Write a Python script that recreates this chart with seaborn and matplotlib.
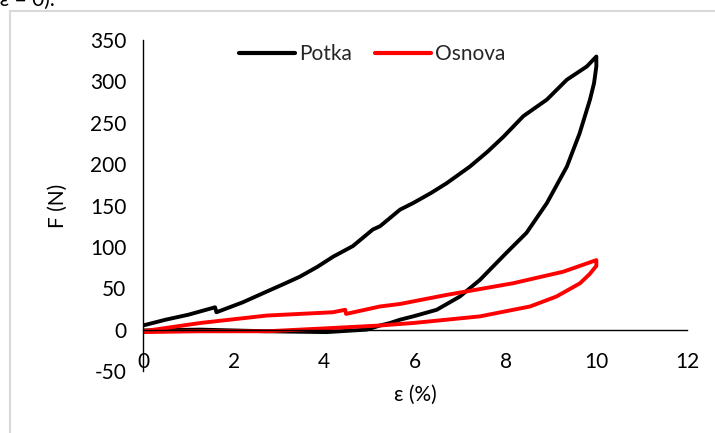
import matplotlib
matplotlib.use("Agg")
import matplotlib.pyplot as plt
from matplotlib.lines import Line2D
import seaborn as sns
import pandas as pd

# Potka (black) hysteresis loop: loading then unloading
potka_x = [0.0, 0.5, 1.0, 1.59, 1.62, 2.2, 2.73, 3.1, 3.46, 3.85, 4.19, 4.63, 5.07, 5.23, 5.67,
           5.96, 6.35, 6.70, 7.21, 7.6, 7.95, 8.39, 8.91, 9.35, 9.79, 10.0,
           10.0, 9.95, 9.86, 9.63, 9.35, 8.91, 8.46, 8.02, 7.43, 6.99, 6.48, 5.96, 5.67, 5.45,
           5.23, 4.93, 4.05, 2.73, 1.26, 0.0]
potka_y = [5, 12, 18, 27, 21, 33, 46, 55, 64, 76, 88, 101, 121, 125, 145,
           153, 165, 177, 197, 215, 233, 258, 278, 302, 318, 330,
           318, 298, 278, 237, 197, 153, 117, 93, 60, 40, 24, 16, 12, 8,
           5, 0, -3, -2, 0, -1]

# Osnova (red) hysteresis loop
osnova_x = [0.0, 1.26, 2.73, 4.19, 4.46, 4.48, 5.23, 5.67, 6.70, 8.16, 9.27, 10.0,
            10.0, 9.85, 9.64, 9.12, 8.54, 7.43, 5.96, 5.23, 4.19, 2.73, 1.26, 0.0]
osnova_y = [-2, 8, 17, 21, 24, 19, 28, 31, 42, 56, 70, 84,
            77, 67, 56, 40, 28, 16, 8, 5, 2, -2, -2, -3]

series_names = ["Potka", "Osnova"]
series_colors = ["#000000", "#ff0000"]
x_ticks = [0, 2, 4, 6, 8, 10, 12]
y_ticks = [-50, 0, 50, 100, 150, 200, 250, 300, 350]

sns.set_theme(style="white")
plt.rcParams["font.family"] = ["Lato", "DejaVu Sans"]
FS = 15

fig = plt.figure(figsize=(7.15, 4.33), dpi=100)
ax = fig.add_axes([143/715, 1-371/433, (687-143)/715, (371-40)/433])

df_p = pd.DataFrame({"x": potka_x, "y": potka_y})
df_o = pd.DataFrame({"x": osnova_x, "y": osnova_y})

sns.lineplot(data=df_p, x="x", y="y", sort=False, estimator=None, color=series_colors[0],
             linewidth=2.8, ax=ax, label=series_names[0])
sns.lineplot(data=df_o, x="x", y="y", sort=False, estimator=None, color=series_colors[1],
             linewidth=2.8, ax=ax, label=series_names[1])

ax.set_xlim(0, 12)
ax.set_ylim(-50, 350)
ax.set_xticks(x_ticks)
ax.set_yticks(y_ticks)
ax.set_xticklabels([str(v) for v in x_ticks])
ax.set_yticklabels([str(v) for v in y_ticks])

for s in ["top", "right"]:
    ax.spines[s].set_visible(False)
ax.spines["bottom"].set_position(("data", 0))
for s in ["left", "bottom"]:
    ax.spines[s].set_color("black")
    ax.spines[s].set_linewidth(1.0)

ax.tick_params(axis="both", which="major", direction="out", length=6, width=1.0,
               color="black", labelsize=FS, labelcolor="black")
ax.tick_params(axis="x", pad=10)
ax.tick_params(axis="y", pad=6)
ax.grid(False)

ax.set_xlabel("ε (%)", fontsize=FS, color="black")
ax.set_ylabel("F (N)", fontsize=FS, color="black")
ax.xaxis.set_label_coords(0.5, (371 - 385) / (371 - 40))
ax.yaxis.set_label_coords((68 - 143) / (687 - 143), 0.5)

leg = ax.legend(loc="upper center", bbox_to_anchor=((372 - 143) / (687 - 143), 1.045), ncol=2,
                frameon=False, fontsize=FS, handlelength=2.7, handletextpad=0.2,
                columnspacing=1.1)
for h in leg.get_lines():
    h.set_linewidth(3)

# chart-area frame (light grey) and cropped caption above
fig.add_artist(Line2D([9.5/715, 1.0], [1-11/433, 1-11/433], transform=fig.transFigure,
                      color="#d9d9d9", linewidth=1.5))
fig.add_artist(Line2D([9.5/715, 9.5/715], [0, 1-11/433], transform=fig.transFigure,
                      color="#d9d9d9", linewidth=1.5))
fig.text(-6/715, 1-6/433, "(ε = 0).", fontsize=FS, color="black", va="baseline", ha="left")

fig.savefig("out.png", dpi=100, facecolor="white")
